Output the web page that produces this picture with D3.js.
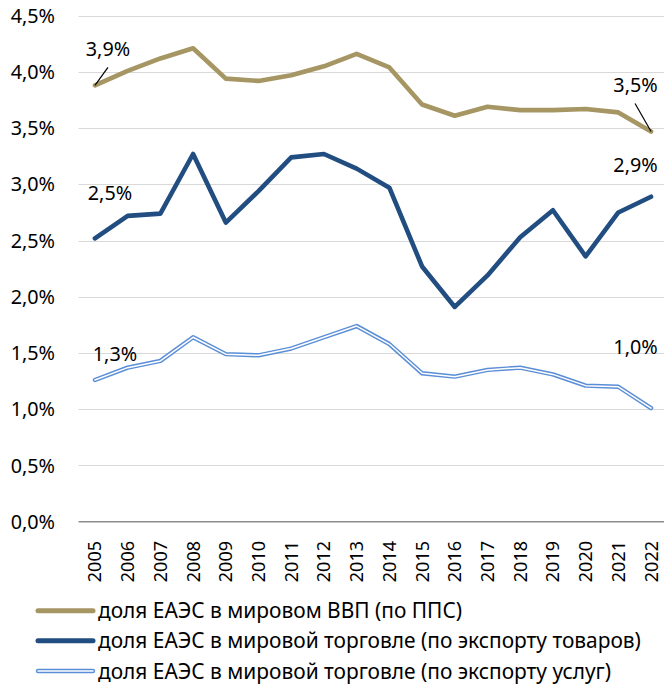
<!DOCTYPE html>
<html>
<head>
<meta charset="utf-8">
<script src="https://cdn.jsdelivr.net/npm/d3@7"></script>
<style>
html,body{margin:0;padding:0;background:#fff;}
svg{display:block;}
text{font-family:"Noto Sans","Open Sans",sans-serif;fill:#000;}
</style>
</head>
<body>
<svg id="chart" width="664" height="686"></svg>
<script>
const years = ["2005","2006","2007","2008","2009","2010","2011","2012","2013","2014","2015","2016","2017","2018","2019","2020","2021","2022"];
const gdpShare = [3.88,4.01,4.12,4.21,3.94,3.92,3.97,4.05,4.16,4.04,3.71,3.61,3.69,3.66,3.66,3.67,3.64,3.47];
const goodsShare = [2.52,2.72,2.74,3.27,2.66,2.94,3.24,3.27,3.14,2.97,2.27,1.91,2.19,2.53,2.77,2.36,2.75,2.89];
const servicesShare = [1.26,1.37,1.43,1.64,1.49,1.48,1.54,1.64,1.74,1.58,1.32,1.29,1.35,1.37,1.31,1.21,1.20,1.01];
const yTicks = [0,0.5,1,1.5,2,2.5,3,3.5,4,4.5];
const seriesNames = [
  "доля ЕАЭС в мировом ВВП (по ППС)",
  "доля ЕАЭС в мировой торговле (по экспорту товаров)",
  "доля ЕАЭС в мировой торговле (по экспорту услуг)"
];

const colGold = "#A69664", colDark = "#214D80", colLight = "#5A8ED6";
const svg = d3.select("#chart");
const fmt = v => d3.format(".1f")(v).replace(".", ",") + "%";

const x = d3.scaleBand().domain(years).range([78.6, 667.4]).padding(0);
const xc = d => x(d) + x.bandwidth() / 2;
const y = d3.scaleLinear().domain([0, 4.5]).range([521.7, 15.7]);

// gridlines
svg.append("g").selectAll("line").data(yTicks.filter(t => t > 0)).join("line")
  .attr("x1", 78.6).attr("x2", 664).attr("y1", d => Math.round(y(d)) + 0.5).attr("y2", d => Math.round(y(d)) + 0.5)
  .attr("stroke", "#D9D9D9").attr("stroke-width", 1.2);
// x axis baseline
svg.append("line").attr("x1", 78.6).attr("x2", 664).attr("y1", y(0)).attr("y2", y(0))
  .attr("stroke", "#8C8C8C").attr("stroke-width", 1.5);

// y tick labels
svg.append("g").selectAll("text").data(yTicks).join("text")
  .attr("x", 55).attr("y", d => y(d)).attr("dy", "0.36em")
  .attr("text-anchor", "end").attr("font-size", 19.8)
  .text(d => fmt(d));

// x tick labels
svg.append("g").selectAll("text").data(years).join("text")
  .attr("transform", d => `translate(${xc(d)},541) rotate(-90)`)
  .attr("dy", "0.36em").attr("text-anchor", "end").attr("font-size", 18)
  .text(d => d);

const line = d3.line().x((d, i) => xc(years[i])).y(d => y(d));

svg.append("path").datum(gdpShare).attr("d", line).attr("fill", "none")
  .attr("stroke", colGold).attr("stroke-width", 4.6).attr("stroke-linejoin", "round").attr("stroke-linecap", "round");
svg.append("path").datum(goodsShare).attr("d", line).attr("fill", "none")
  .attr("stroke", colDark).attr("stroke-width", 4.6).attr("stroke-linejoin", "round").attr("stroke-linecap", "round");
svg.append("path").datum(servicesShare).attr("d", line).attr("fill", "none")
  .attr("stroke", colLight).attr("stroke-width", 4.4).attr("stroke-linejoin", "round").attr("stroke-linecap", "round");
svg.append("path").datum(servicesShare).attr("d", line).attr("fill", "none")
  .attr("stroke", "#fff").attr("stroke-width", 1.5).attr("stroke-linejoin", "round").attr("stroke-linecap", "round");

// data labels
const first = years[0], last = years[years.length - 1], n = years.length - 1;
const labels = [
  {v: gdpShare[0], cx: xc(first) + 13, by: y(gdpShare[0]) - 29},
  {v: goodsShare[0], cx: xc(first) + 15, by: y(goodsShare[0]) - 38},
  {v: servicesShare[0], cx: xc(first) + 20, by: y(servicesShare[0]) - 19},
  {v: gdpShare[n], cx: xc(last) - 15.5, by: y(gdpShare[n]) - 40},
  {v: goodsShare[n], cx: xc(last) - 15.5, by: y(goodsShare[n]) - 25},
  {v: servicesShare[n], cx: xc(last) - 15.5, by: y(servicesShare[n]) - 54}
];
svg.append("g").selectAll("text").data(labels).join("text")
  .attr("x", d => d.cx).attr("y", d => d.by).attr("text-anchor", "middle").attr("font-size", 19.8)
  .text(d => fmt(d.v));

// leader lines
svg.append("line").attr("x1", xc(first)).attr("y1", y(gdpShare[0]))
  .attr("x2", xc(first) + 13).attr("y2", y(gdpShare[0]) - 18).attr("stroke", "#000").attr("stroke-width", 1.2);
svg.append("line").attr("x1", xc(last)).attr("y1", y(gdpShare[n]))
  .attr("x2", xc(last) - 16).attr("y2", y(gdpShare[n]) - 28).attr("stroke", "#000").attr("stroke-width", 1.2);

// legend
const lg = svg.append("g");
const legendY = [610.7, 640.7, 671];
seriesNames.forEach((name, i) => {
  const g = lg.append("g");
  if (i < 2) {
    g.append("line").attr("x1", 38).attr("x2", 93).attr("y1", legendY[i]).attr("y2", legendY[i])
      .attr("stroke", i === 0 ? colGold : colDark).attr("stroke-width", 5).attr("stroke-linecap", "round");
  } else {
    g.append("line").attr("x1", 38).attr("x2", 93).attr("y1", legendY[i]).attr("y2", legendY[i])
      .attr("stroke", colLight).attr("stroke-width", 4.4).attr("stroke-linecap", "round");
    g.append("line").attr("x1", 38).attr("x2", 93).attr("y1", legendY[i]).attr("y2", legendY[i])
      .attr("stroke", "#fff").attr("stroke-width", 1.5).attr("stroke-linecap", "round");
  }
  g.append("text").attr("class", "legtext").attr("x", 98).attr("y", legendY[i]).attr("dy", "0.36em")
    .attr("font-size", 18).text(name);
});
// fit legend font to target width of the longest entry
const lt = lg.selectAll("text.legtext");
const w = lt.nodes()[1].getComputedTextLength();
const fs = 18 * 543 / w;
lt.attr("font-size", fs);
</script>
</body>
</html>
